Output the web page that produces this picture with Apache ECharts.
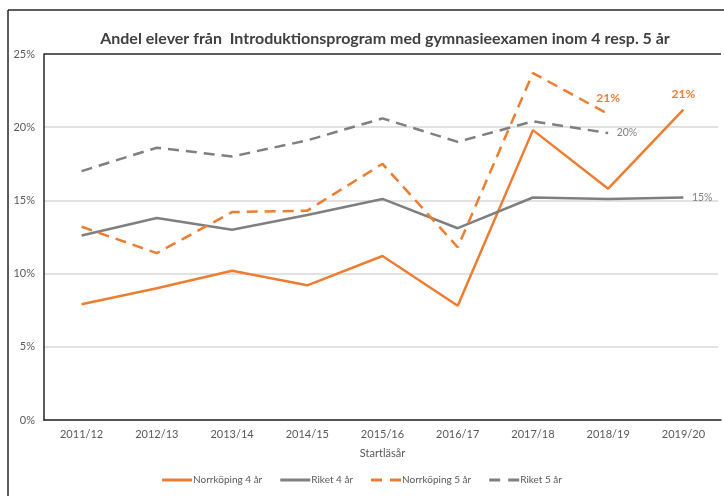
<!DOCTYPE html>
<html><head><meta charset="utf-8">
<script src="https://cdn.jsdelivr.net/npm/echarts@6/dist/echarts.min.js"></script>
<style>html,body{margin:0;padding:0;background:#fff;overflow:hidden}#c{width:724px;height:496px}</style>
</head><body><div id="c"></div>
<script>
const categories = ['2011/12','2012/13','2013/14','2014/15','2015/16','2016/17','2017/18','2018/19','2019/20'];
const norrkoping4 = [7.9, 9.0, 10.2, 9.2, 11.2, 7.8, 19.8, 15.8, 21.2];
const riket4 = [12.6, 13.8, 13.0, 14.0, 15.1, 13.1, 15.2, 15.1, 15.2];
const norrkoping5 = [13.2, 11.4, 14.2, 14.3, 17.5, 11.8, 23.7, 20.9, null];
const riket5 = [17.0, 18.6, 18.0, 19.1, 20.6, 19.0, 20.4, 19.6, null];
const yTicks = [0, 5, 10, 15, 20, 25];
const seriesNames = ['Norrköping 4 år', 'Riket 4 år', 'Norrköping 5 år', 'Riket 5 år'];
const endLabels = ['21%', '15%', '21%', '20%'];

const ORANGE = '#ED7D31', GRAY = '#7F7F7F', DARK = '#262626', GRID = '#D9D9D9';
const FONT = 'Lato';
const SOLID_ICON = 'path://M0,0H30V2H0Z';
const DASH_ICON = 'path://M0,0H11V2H0Z M19,0H30V2H19Z';

function withLabel(arr, idx, text, pos, color, bold) {
  return arr.map((v, i) => i === idx ? {
    value: v,
    label: { show: true, formatter: text, position: pos, color: color, opacity: 1,
      fontSize: bold ? 12 : 10.5, fontWeight: bold ? 'bold' : 'normal', fontFamily: FONT,
      distance: pos === 'right' ? 8 : 9 }
  } : v);
}

function lineSeries(name, data, color, dashed) {
  return {
    name: name, type: 'line', data: data,
    symbol: 'circle', symbolSize: 1, showSymbol: true,
    itemStyle: { color: 'rgba(0,0,0,0)' },
    lineStyle: { color: color, width: 2.5, type: dashed ? [11, 7] : 'solid' },
    label: { show: false },
    emphasis: { disabled: true }
  };
}

const chart = echarts.init(document.getElementById('c'));
chart.setOption({
  animation: false,
  backgroundColor: '#fff',
  textStyle: { fontFamily: FONT },
  graphic: [
    { type: 'line', shape: { x1: 8, y1: 10, x2: 724, y2: 10 }, style: { stroke: DARK, lineWidth: 1.5 }, silent: true },
    { type: 'line', shape: { x1: 8, y1: 10, x2: 8, y2: 496 }, style: { stroke: DARK, lineWidth: 1.5 }, silent: true },
    { type: 'rect', shape: { x: 718, y: 56, width: 6, height: 362 }, style: { fill: '#fff' }, z: 50, silent: true }
  ],
  title: {
    text: 'Andel elever från  Introduktionsprogram med gymnasieexamen inom 4 resp. 5 år',
    left: 380, top: 26, textAlign: 'center',
    textStyle: { fontFamily: FONT, fontSize: 16, fontWeight: 'bold', color: '#404040' }
  },
  grid: { left: 44, top: 54, right: 3, bottom: 76, show: false, containLabel: false },
  legend: {
    bottom: 6, left: 'center', itemWidth: 30, itemHeight: 3, itemGap: 18,
    symbolKeepAspect: false,
    textStyle: { fontFamily: FONT, fontSize: 10, color: '#595959', padding: [0, 0, 0, -4] },
    data: [
      { name: seriesNames[0], icon: SOLID_ICON, itemStyle: { color: ORANGE, opacity: 1 } },
      { name: seriesNames[1], icon: SOLID_ICON, itemStyle: { color: GRAY, opacity: 1 } },
      { name: seriesNames[2], icon: DASH_ICON, itemStyle: { color: ORANGE, opacity: 1 } },
      { name: seriesNames[3], icon: DASH_ICON, itemStyle: { color: GRAY, opacity: 1 } }
    ]
  },
  xAxis: {
    type: 'category', data: categories, boundaryGap: true,
    name: 'Startläsår', nameLocation: 'middle', nameGap: 28,
    nameTextStyle: { fontFamily: FONT, fontSize: 11, color: '#595959' },
    axisLine: { show: true, lineStyle: { color: DARK, width: 1.5 } }, axisTick: { show: false },
    axisLabel: { fontFamily: FONT, fontSize: 11, color: '#595959', margin: 9 },
    splitLine: { show: false }
  },
  yAxis: {
    type: 'value', min: 0, max: 25, interval: 5,
    axisLine: { show: true, lineStyle: { color: DARK, width: 1.5 } }, axisTick: { show: false },
    axisLabel: { fontFamily: FONT, fontSize: 11, color: '#595959', margin: 9,
      formatter: v => yTicks.includes(v) ? v + '%' : '' },
    splitLine: { lineStyle: { color: [GRID, GRID, GRID, GRID, GRID, DARK], width: 1.5 } }
  },
  series: [
    lineSeries(seriesNames[0], withLabel(norrkoping4, 8, endLabels[0], 'top', ORANGE, true), ORANGE, false),
    lineSeries(seriesNames[1], withLabel(riket4, 8, endLabels[1], 'right', GRAY, false), GRAY, false),
    lineSeries(seriesNames[2], withLabel(norrkoping5, 7, endLabels[2], 'top', ORANGE, true), ORANGE, true),
    lineSeries(seriesNames[3], withLabel(riket5, 7, endLabels[3], 'right', GRAY, false), GRAY, true)
  ]
});
</script></body></html>
